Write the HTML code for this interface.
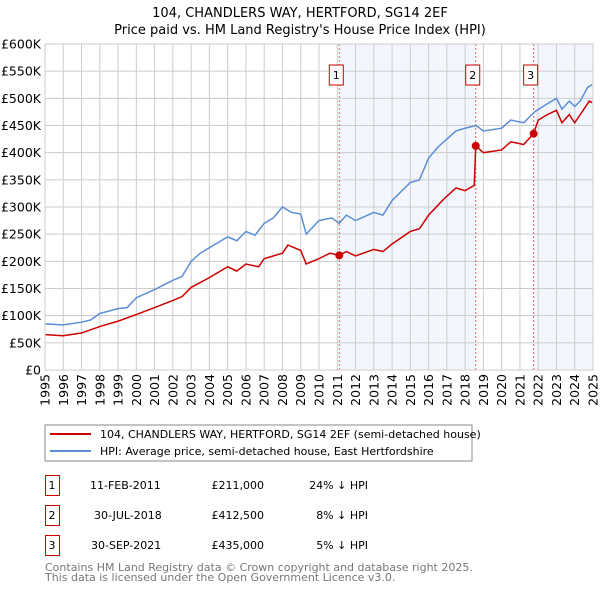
<!DOCTYPE html>
<html><head><meta charset="utf-8"><style>
body{margin:0;background:#fff;font-family:"Liberation Sans","DejaVu Sans",sans-serif}
svg text{font-family:"DejaVu Sans","Liberation Sans",sans-serif}
</style></head><body>
<svg id="c" width="600" height="590" xmlns="http://www.w3.org/2000/svg">
<text x="300" y="17" text-anchor="middle" font-size="13">104, CHANDLERS WAY, HERTFORD, SG14 2EF</text>
<text x="300" y="34" text-anchor="middle" font-size="13">Price paid vs. HM Land Registry's House Price Index (HPI)</text>
<g id="plot"></g>
<rect x="45" y="425" width="427" height="36" fill="#fff" stroke="#888"/>
<line x1="50" y1="434" x2="91" y2="434" stroke="#cc0000" stroke-width="2"/>
<text x="100" y="438" font-size="11">104, CHANDLERS WAY, HERTFORD, SG14 2EF (semi-detached house)</text>
<line x1="50" y1="451" x2="91" y2="451" stroke="#5b8ed6" stroke-width="2"/>
<text x="100" y="455" font-size="11">HPI: Average price, semi-detached house, East Hertfordshire</text>
<g font-size="11">
<rect x="45.5" y="475.5" width="14" height="20" fill="none" stroke="#c00"/><text x="52" y="489" text-anchor="middle">1</text>
<text x="90" y="489">11-FEB-2011</text><text x="264" y="489" text-anchor="end">£211,000</text><text x="368" y="489" text-anchor="end">24% ↓ HPI</text>
<rect x="45.5" y="505.5" width="14" height="20" fill="none" stroke="#c00"/><text x="52" y="519" text-anchor="middle">2</text>
<text x="94" y="519">30-JUL-2018</text><text x="264" y="519" text-anchor="end">£412,500</text><text x="368" y="519" text-anchor="end">8% ↓ HPI</text>
<rect x="45.5" y="535.5" width="14" height="20" fill="none" stroke="#c00"/><text x="52" y="549" text-anchor="middle">3</text>
<text x="91" y="549">30-SEP-2021</text><text x="264" y="549" text-anchor="end">£435,000</text><text x="368" y="549" text-anchor="end">5% ↓ HPI</text>
</g>
<text x="45" y="571" font-size="11" fill="#777">Contains HM Land Registry data © Crown copyright and database right 2025.</text>
<text x="45" y="581" font-size="11" fill="#777">This data is licensed under the Open Government Licence v3.0.</text>
</svg>
<script>
const yTicks=[0,50,100,150,200,250,300,350,400,450,500,550,600];
const yLabels=["£0","£50K","£100K","£150K","£200K","£250K","£300K","£350K","£400K","£450K","£500K","£550K","£600K"];
const years=[1995,1996,1997,1998,1999,2000,2001,2002,2003,2004,2005,2006,2007,2008,2009,2010,2011,2012,2013,2014,2015,2016,2017,2018,2019,2020,2021,2022,2023,2024,2025];
const hpiX=[1995,1996,1997,1997.5,1998,1999,1999.5,2000,2001,2002,2002.5,2003,2003.5,2004,2005,2005.5,2006,2006.5,2007,2007.5,2008,2008.5,2009,2009.3,2010,2010.7,2011.1,2011.5,2012,2013,2013.5,2014,2015,2015.5,2016,2016.5,2017,2017.5,2018,2018.6,2019,2020,2020.5,2021.2,2021.8,2022.5,2023,2023.3,2023.7,2024,2024.3,2024.7,2024.95];
const hpiY=[85,83,88,92,104,113,115,133,148,165,172,200,215,225,245,238,255,248,270,280,300,290,287,250,275,280,270,285,275,290,285,312,345,350,390,410,425,440,445,450,440,445,460,455,475,490,500,480,495,485,495,520,525];
const ppX=[1995,1996,1997,1998,1999,2000,2001,2002,2002.5,2003,2004,2005,2005.5,2006,2006.7,2007,2008,2008.3,2009,2009.3,2010,2010.6,2011.1,2011.5,2012,2013,2013.5,2014,2015,2015.5,2016,2016.7,2017,2017.5,2018,2018.5,2018.58,2019,2020,2020.5,2021.2,2021.75,2022,2022.5,2023,2023.3,2023.7,2024,2024.3,2024.8,2024.95];
const ppY=[65,63,68,80,90,102,115,128,135,152,170,190,182,195,190,205,215,230,220,195,205,215,211,218,210,222,218,232,255,260,285,310,320,335,330,340,412.5,400,405,420,415,435,460,470,478,455,470,455,470,495,492];
const saleX=[2011.11,2018.58,2021.75];
const saleY=[211,412.5,435];
const saleLabels=["1","2","3"];
const L=45,R=593,T=44,B=370;
const sx=v=>L+(v-1995)/30*(R-L), sy=v=>B-v/600*(B-T);
const NS="http://www.w3.org/2000/svg", g=document.getElementById('plot');
function mk(t,a){const e=document.createElementNS(NS,t);for(const k in a)e.setAttribute(k,a[k]);g.appendChild(e);return e;}
let e;
e=mk('rect',{x:sx(saleX[0]),y:T,width:sx(saleX[1])-sx(saleX[0]),height:B-T,fill:'#eef3fc',opacity:0.7});


e=mk('rect',{x:sx(saleX[2]),y:T,width:R-sx(saleX[2]),height:B-T,fill:'#eef3fc',opacity:0.7});


yTicks.forEach((v,i)=>{
 e=mk('line',{x1:L,x2:R,y1:sy(v),y2:sy(v),stroke:'#ccc'});
 
 
 e=mk('text',{x:L-4,y:sy(v)+4.5,'text-anchor':'end','font-size':12.5});e.textContent=yLabels[i];
 
 
});
years.forEach(y=>{
 e=mk('line',{y1:T,y2:B,x1:sx(y),x2:sx(y),stroke:'#ccc'});
 
 
 e=mk('text',{x:0,y:0,'text-anchor':'end','font-size':12.5,transform:`translate(${sx(y)+4.5},${B+4}) rotate(-90)`});e.textContent=y;
 
 
});
saleX.forEach((x,i)=>{
 e=mk('line',{x1:sx(x),x2:sx(x),y1:T,y2:B,stroke:'#e06060','stroke-dasharray':'2,2'});
 
 
 e=mk('rect',{x:sx(x)-10,y:65,width:14,height:20,fill:'#fff',stroke:'#c00'});
 
 
 e=mk('text',{x:sx(x)-3,y:79,'text-anchor':'middle','font-size':11});e.textContent=saleLabels[i];
 
 
});
e=mk('path',{d:'M'+hpiX.map((x,i)=>sx(x)+','+sy(hpiY[i])).join('L'),fill:'none',stroke:'#5b8ed6','stroke-width':1.5});


e=mk('path',{d:'M'+ppX.map((x,i)=>sx(x)+','+sy(ppY[i])).join('L'),fill:'none',stroke:'#cc0000','stroke-width':1.5});


saleX.forEach((x,i)=>{
 e=mk('circle',{cx:sx(x),cy:sy(saleY[i]),r:4,fill:'#cc0000'});
 
 
});
e=mk('rect',{x:L,y:T,width:R-L,height:B-T,fill:'none',stroke:'#ccc'});


</script>
</body></html>
